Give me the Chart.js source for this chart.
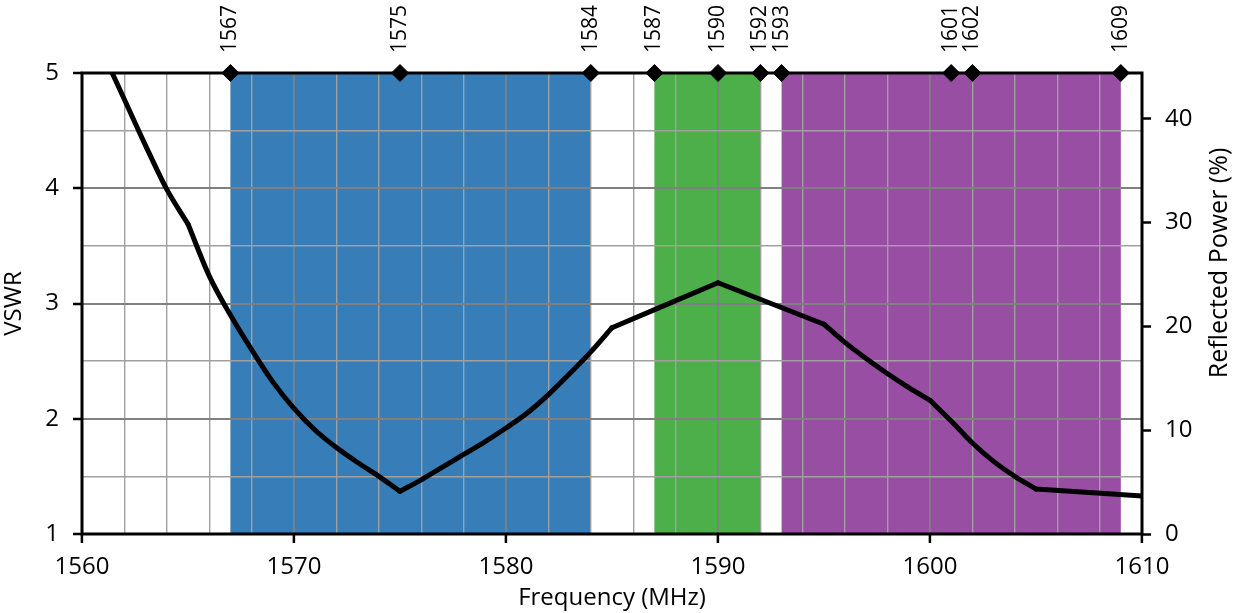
<!DOCTYPE html>
<html>
<head>
<meta charset="utf-8">
<script src="https://cdn.jsdelivr.net/npm/chart.js@4"></script>
<style>
  html, body { margin: 0; padding: 0; background: #fff; }
  #wrap { width: 1239px; height: 613px; position: relative; }
</style>
</head>
<body>
<div id="wrap"><canvas id="vswrChart"></canvas></div>
<script>
// Données
const freqs = [1561, 1562, 1563, 1564, 1565, 1566, 1567, 1568, 1569, 1570,
               1571, 1572, 1573, 1574, 1575, 1576, 1577, 1578, 1579, 1580,
               1581, 1582, 1583, 1584, 1585, 1590, 1595, 1596, 1597, 1598,
               1599, 1600, 1601, 1602, 1603, 1604, 1605, 1610];
const vswr  = [5.17, 4.77, 4.37, 3.99, 3.69, 3.24, 2.90, 2.60, 2.32, 2.09,
               1.90, 1.75, 1.62, 1.50, 1.37, 1.47, 1.58, 1.69, 1.80, 1.92,
               2.05, 2.21, 2.39, 2.58, 2.79, 3.18, 2.82, 2.66, 2.52, 2.39,
               2.27, 2.16, 1.98, 1.79, 1.63, 1.50, 1.39, 1.33];
// points anguleux de la courbe (MHz)
const kinks = [1561, 1565, 1575, 1585, 1590, 1595, 1600, 1605, 1610];

// bandes (MHz)
const bandStart  = [1567, 1587, 1593];
const bandEnd    = [1584, 1592, 1609];
const bandColors = ['#377eb8', '#4daf4a', '#984ea3'];

// marqueurs du haut
const markerFreqs = [1567, 1575, 1584, 1587, 1590, 1592, 1593, 1601, 1602, 1609];

const xTickLabels = [1560, 1570, 1580, 1590, 1600, 1610];
const vswrTicks   = [1, 2, 3, 4, 5];
const powerTicks  = [0, 10, 20, 30, 40];

const FONT = 'Open Sans';
const FSIZE = 24;

// segments lisses entre points anguleux
const segments = [];
for (let k = 0; k < kinks.length - 1; k++) {
    const pts = [];
    freqs.forEach((f, i) => { if (f >= kinks[k] && f <= kinks[k + 1]) pts.push({ x: f, y: vswr[i] }); });
    segments.push({
        data: pts,
        borderColor: '#000',
        borderWidth: 5,
        borderCapStyle: 'round',
        borderJoinStyle: 'round',
        pointRadius: 0,
        cubicInterpolationMode: 'monotone',
        yAxisID: 'y'
    });
}

// --- PLUGINS ---
const bandsPlugin = {
    id: 'bands',
    beforeDraw(chart) {
        const { ctx, chartArea: a, scales: { x } } = chart;
        ctx.save();
        bandStart.forEach((s, i) => {
            const x0 = x.getPixelForValue(s), x1 = x.getPixelForValue(bandEnd[i]);
            ctx.fillStyle = bandColors[i];
            ctx.fillRect(x0, a.top, x1 - x0, a.bottom - a.top);
        });
        ctx.restore();
    }
};

const boxPlugin = {
    id: 'box',
    beforeDatasetsDraw(chart) {
        const { ctx, chartArea: a } = chart;
        ctx.save();
        ctx.strokeStyle = '#000';
        ctx.lineWidth = 3;
        ctx.strokeRect(a.left, a.top, a.right - a.left, a.bottom - a.top);
        ctx.restore();
    }
};

const textPlugin = {
    id: 'texts',
    afterDraw(chart) {
        const { ctx, chartArea: a, scales: { x } } = chart;
        ctx.save();
        ctx.fillStyle = '#000';
        ctx.font = '21px "' + FONT + '"';
        ctx.textAlign = 'left';
        ctx.textBaseline = 'middle';
        markerFreqs.forEach(f => {
            ctx.save();
            ctx.translate(x.getPixelForValue(f), a.top - 20);
            ctx.rotate(-Math.PI / 2);
            ctx.fillText(String(f), 0, 0);
            ctx.restore();
        });
        // titre axe droit
        ctx.save();
        ctx.font = '25px "' + FONT + '"';
        ctx.textAlign = 'center';
        ctx.translate(1220, 263);
        ctx.rotate(-Math.PI / 2);
        ctx.fillText('Reflected Power (%)', 0, 0);
        ctx.restore();
        ctx.restore();
    }
};

const ctx = document.getElementById('vswrChart').getContext('2d');
new Chart(ctx, {
    type: 'line',
    data: {
        datasets: segments.concat([
            {
                label: 'markers',
                type: 'scatter',
                data: markerFreqs.map(f => ({ x: f, y: 5 })),
                pointStyle: 'rectRot',
                pointRadius: 8.5,
                backgroundColor: '#000',
                borderColor: '#000',
                clip: false,
                yAxisID: 'y'
            }
        ])
    },
    options: {
        responsive: true,
        maintainAspectRatio: false,
        animation: false,
        layout: { padding: { top: 73, left: 0, right: 0, bottom: 0 } },
        plugins: { legend: { display: false }, tooltip: { enabled: false } },
        scales: {
            x: {
                type: 'linear', min: 1560, max: 1610,
                afterFit: s => { s.height = 79; },
                ticks: {
                    stepSize: 2, autoSkip: false, maxRotation: 0, padding: 10,
                    color: '#000', font: { family: FONT, size: FSIZE },
                    callback: v => xTickLabels.includes(v) ? String(v) : ''
                },
                grid: {
                    color: c => (c.tick && c.tick.value % 10 === 0) ? '#808080' : '#a0a0a0',
                    lineWidth: c => (c.tick && c.tick.value % 10 === 0) ? 1.8 : 1.4,
                    tickColor: c => (c.tick && xTickLabels.includes(c.tick.value)) ? '#000' : 'rgba(0,0,0,0)',
                    tickLength: 9, tickWidth: 2.5
                },
                border: { display: false },
                title: { display: true, text: 'Frequency (MHz)', color: '#000', font: { family: FONT, size: FSIZE }, padding: { top: -10, bottom: 0 } }
            },
            y: {
                type: 'linear', min: 1, max: 5, position: 'left',
                afterFit: s => { s.width = 82; },
                ticks: {
                    stepSize: 0.5, autoSkip: false, padding: 14,
                    color: '#000', font: { family: FONT, size: FSIZE },
                    callback: v => vswrTicks.includes(v) ? String(v) : ''
                },
                grid: {
                    color: c => (c.tick && Number.isInteger(c.tick.value)) ? '#808080' : '#a0a0a0',
                    lineWidth: c => (c.tick && Number.isInteger(c.tick.value)) ? 2 : 1.4,
                    tickColor: c => (c.tick && vswrTicks.includes(c.tick.value)) ? '#000' : 'rgba(0,0,0,0)',
                    tickLength: 9, tickWidth: 2.5
                },
                border: { display: false },
                title: { display: true, text: 'VSWR', color: '#000', font: { family: FONT, size: FSIZE }, padding: { top: 0, bottom: 0 } }
            },
            y2: {
                type: 'linear', min: 0, max: 44.4, position: 'right',
                afterFit: s => { s.width = 97; },
                afterBuildTicks: s => { s.ticks = powerTicks.map(v => ({ value: v })); },
                ticks: { padding: 14, color: '#000', font: { family: FONT, size: FSIZE } },
                grid: { drawOnChartArea: false, tickColor: '#000', tickLength: 9, tickWidth: 2.5 },
                border: { display: false }
            }
        }
    },
    plugins: [bandsPlugin, boxPlugin, textPlugin]
});
</script>
</body>
</html>
